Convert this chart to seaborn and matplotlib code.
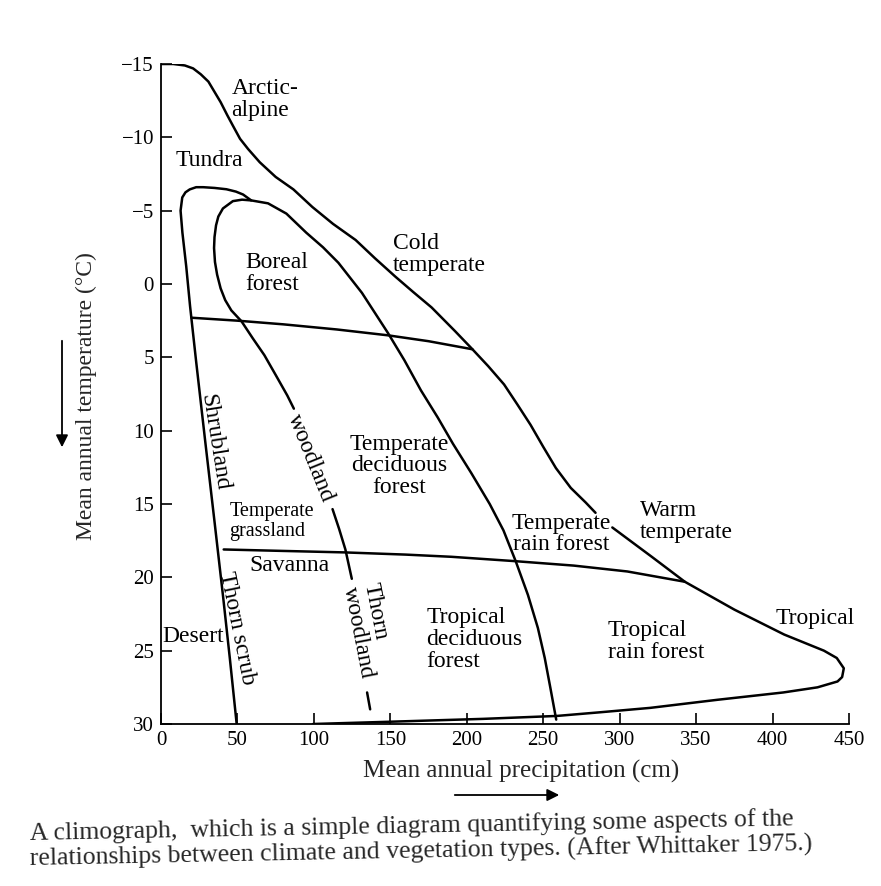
import numpy as np
import pandas as pd
import seaborn as sns
import matplotlib.pyplot as plt

# Boundary curves read off the climograph: precipitation (cm), temperature (degC)
# outer envelope, cold side (Arctic-alpine -> Cold temperate), broken by the "Temperate" label
env_top_x = [0, 8, 15.6, 21, 26, 31, 35, 39, 43.4, 47, 51.7, 57, 64.6, 75, 86.6, 99, 112.5, 127.3,
             140, 153.3, 165, 177, 192.2, 203.7, 214, 224.4, 233, 241.7, 250, 258.3, 268, 277.8, 284.2]
env_top_y = [-15, -15, -14.9, -14.7, -14.3, -13.8, -13.1, -12.4, -11.5, -10.8, -9.9, -9.2, -8.3, -7.3,
             -6.45, -5.25, -4.1, -3.0, -1.75, -0.5, 0.55, 1.6, 3.2, 4.45, 5.6, 6.85, 8.2, 9.6, 11.1,
             12.55, 13.9, 14.9, 15.6]
# outer envelope, warm side (Warm temperate -> Tropical tip -> back along the bottom)
env_low_x = [295.2, 321, 342.6, 375, 407.6, 433.6, 442, 446.6, 445.5, 442.5, 429.4, 407, 363.9,
             320, 287.3, 259, 210.7, 145.2, 99.4]
env_low_y = [16.6, 18.6, 20.3, 22.2, 23.9, 25.0, 25.5, 26.2, 26.8, 27.1, 27.5, 27.85, 28.35,
             28.9, 29.2, 29.45, 29.65, 29.86, 30.0]
# shrubland / thorn scrub line, over the top of the loop, then the temperate rain forest boundary
shrub_x = [49.5, 45, 40.7, 35, 29, 23, 19, 16.5, 14, 12.8, 13.9, 16, 18.8, 23, 27.6, 35, 42.8, 49,
           53.7, 59, 70, 82, 95, 106, 116, 131.4, 148.5, 159.2, 170, 181, 191, 203, 215, 224, 232, 240,
           246.5, 251, 254.7, 258.5]
shrub_y = [30, 25.5, 21.4, 16.2, 10.8, 5.3, 1.5, -1.2, -3.5, -5.0, -5.9, -6.25, -6.45, -6.6, -6.6,
           -6.55, -6.46, -6.3, -6.1, -5.7, -5.5, -4.8, -3.5, -2.5, -1.45, 0.6, 3.35, 5.2, 7.25, 9.1,
           10.9, 12.9, 15.0, 16.8, 18.9, 21.2, 23.45, 25.5, 27.55, 29.7]
# boreal loop continuing as the woodland line (three pieces, gaps for labels)
wood1_x = [59, 53, 47, 40.5, 37.5, 36, 35, 34.7, 35.3, 36.7, 39, 42, 46, 52.7, 60, 67.6, 75, 82.6, 86.9]
wood1_y = [-5.7, -5.75, -5.65, -5.15, -4.6, -4.0, -3.2, -2.45, -1.5, -0.64, 0.3, 1.1, 1.8, 2.55,
           3.7, 4.85, 6.2, 7.6, 8.5]
wood2_x = [112.2, 116.5, 120.6, 124.8]
wood2_y = [15.35, 16.7, 18.1, 20.1]
wood3_x = [134.8, 136.8]
wood3_y = [27.85, 29.0]
# boreal / temperate and temperate / tropical lines
cold_line_x = [20, 50, 80, 115, 148.5, 175, 203.7]
cold_line_y = [2.3, 2.5, 2.75, 3.1, 3.5, 3.9, 4.45]
warm_line_x = [41, 80, 120, 160, 190, 232, 270, 305, 342.6]
warm_line_y = [18.1, 18.2, 18.3, 18.45, 18.6, 18.9, 19.2, 19.6, 20.3]

segments = {
    'env_top': (env_top_x, env_top_y), 'env_low': (env_low_x, env_low_y),
    'shrub': (shrub_x, shrub_y), 'wood1': (wood1_x, wood1_y), 'wood2': (wood2_x, wood2_y),
    'wood3': (wood3_x, wood3_y), 'cold_line': (cold_line_x, cold_line_y),
    'warm_line': (warm_line_x, warm_line_y),
}
df = pd.concat([pd.DataFrame({'precip': x, 'temp': y, 'seg': name})
                for name, (x, y) in segments.items()], ignore_index=True)

# biome labels
labels = ['Arctic-\nalpine', 'Tundra', 'Boreal\nforest', 'Cold\ntemperate',
          'Temperate\ndeciduous\nforest', 'Shrubland', 'woodland', 'Temperate\ngrassland',
          'Savanna', 'Thorn scrub', 'Thorn\nwoodland', 'Desert', 'Tropical\ndeciduous\nforest',
          'Temperate\nrain forest', 'Warm\ntemperate', 'Tropical', 'Tropical\nrain forest']
label_x = [46, 9.5, 55, 151.5, 156, 34.9, 98, 44.7, 84, 49.8, 135.8, 1, 173.4, 262, 313, 402, 292.4]
label_y = [-12.6, -8.4, -0.7, -2.0, 12.4, 10.8, 11.9, 16.2, 19.2, 23.5, 23.65, 24.0, 24.25, 17.05, 16.2, 22.8, 24.4]
label_rot = [0, 0, 0, 0, 0, -81, -68, 0, 0, -78.5, -79, 0, 0, 0, 0, 0, 0]
label_ha = ['left', 'left', 'left', 'left', 'center', 'center', 'center', 'left', 'center',
            'center', 'center', 'left', 'left', 'center', 'left', 'left', 'left']

caption = ['A climograph,  which is a simple diagram quantifying some aspects of the',
           'relationships between climate and vegetation types. (After Whittaker 1975.)']

sns.set_theme(style='white')
plt.rcParams['font.family'] = ['Liberation Serif', 'DejaVu Serif']

fig = plt.figure(figsize=(8.81, 8.86), dpi=100)
ax = fig.add_axes([161 / 881, 162 / 886, 688 / 881, 660 / 886])

sns.lineplot(data=df, x='precip', y='temp', units='seg', estimator=None, sort=False,
             color='black', lw=1.8, legend=False, ax=ax)

ax.set_xlim(0, 450)
ax.set_ylim(30, -15)
ax.set_xticks(range(0, 451, 50))
ax.set_yticks(range(-15, 31, 5))
ax.tick_params(direction='in', length=8, width=1.2, labelsize=15, colors='black', pad=5,
               left=True, bottom=True)
ax.set_xlabel('')
ax.set_ylabel('')
sns.despine(ax=ax)
for side in ['left', 'bottom']:
    ax.spines[side].set_color('black')
    ax.spines[side].set_linewidth(1.3)

for txt, x, y, rot, ha in zip(labels, label_x, label_y, label_rot, label_ha):
    size = 14.5 if txt.endswith('grassland') else 17
    ax.text(x, y, txt, ha=ha, va='center', rotation=rot, rotation_mode='anchor',
            multialignment='center' if ha == 'center' and rot == 0 else 'left',
            fontsize=size, linespacing=1.05, color='black')

fig.text(86 / 881, 1 - 396 / 886, 'Mean annual temperature (°C)', rotation=90,
         ha='center', va='center', fontsize=17)
fig.text(521 / 881, 1 - 771 / 886, 'Mean annual precipitation (cm)',
         ha='center', va='center', fontsize=18)

# direction arrows next to the axis titles
ax.annotate('', xy=(62 / 881, 1 - 450 / 886), xytext=(62 / 881, 1 - 338 / 886),
            xycoords='figure fraction', textcoords='figure fraction', annotation_clip=False,
            arrowprops=dict(arrowstyle='-|>', color='black', lw=1.3, mutation_scale=18))
ax.annotate('', xy=(562 / 881, 1 - 795 / 886), xytext=(452 / 881, 1 - 795 / 886),
            xycoords='figure fraction', textcoords='figure fraction', annotation_clip=False,
            arrowprops=dict(arrowstyle='-|>', color='black', lw=1.3, mutation_scale=18))

fig.text(30 / 881, 1 - 840 / 886, caption[0], ha='left', va='baseline', fontsize=18.5,
         rotation=1.1, rotation_mode='anchor')
fig.text(30 / 881, 1 - 866 / 886, caption[1], ha='left', va='baseline', fontsize=18.5,
         rotation=1.1, rotation_mode='anchor')

fig.savefig('out.png', dpi=100)
